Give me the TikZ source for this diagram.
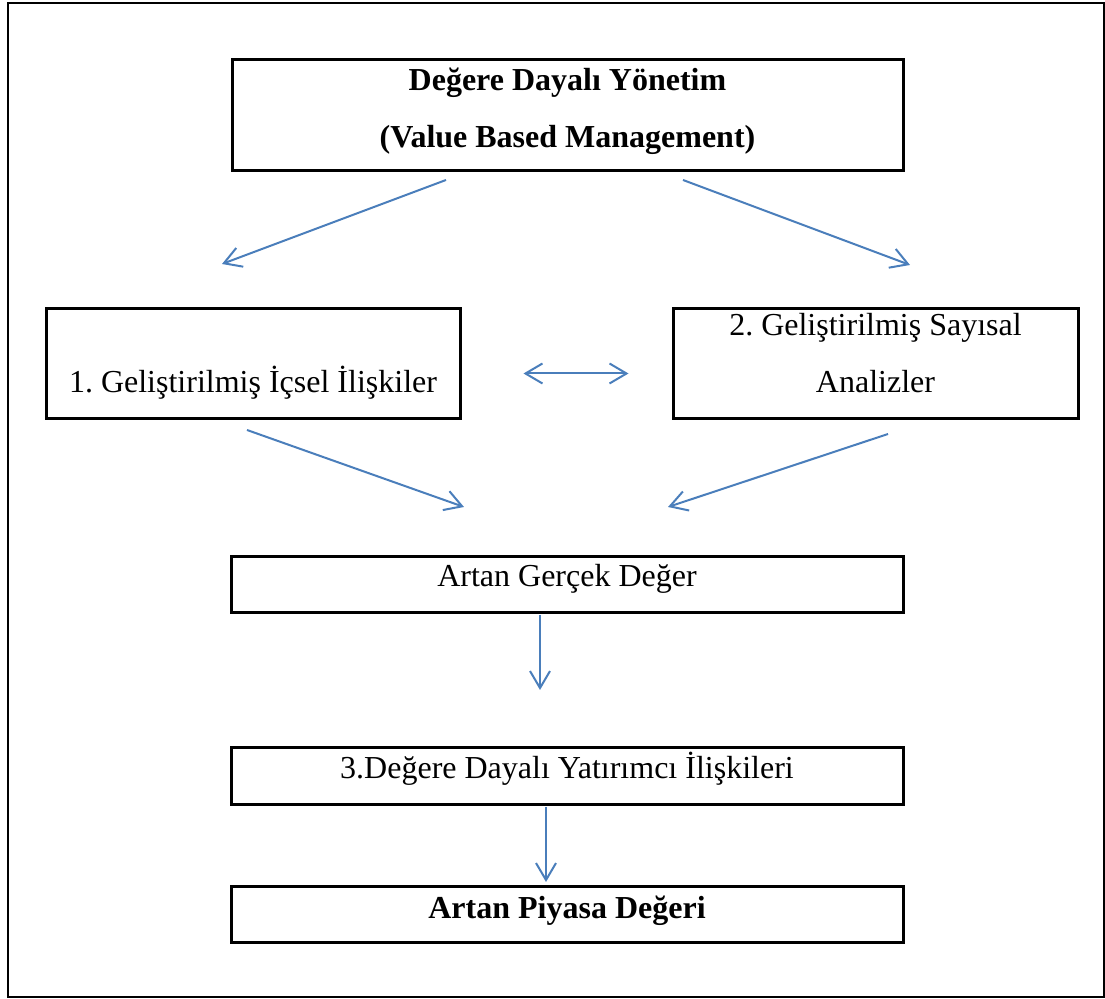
\documentclass[tikz,border=0pt]{standalone}
\usepackage{fontspec}
\setmainfont{Liberation Serif}
\usetikzlibrary{arrows.meta}
\definecolor{wordblue}{HTML}{4A7EBB}
\frenchspacing

\begin{document}
\begin{tikzpicture}[x=0.5pt,y=-0.5pt,>={Straight Barb[length=8.5pt,width=10pt]},
		box/.style={draw,line width=1.5pt,anchor=north,align=center,inner sep=0pt,font=\fontsize{16}{28.5}\selectfont},
		boldbox/.style={box,font=\fontsize{16}{28.5}\selectfont\bfseries},
		flow/.style={draw=wordblue,line width=1pt,->}]
	\useasboundingbox (0,0) rectangle (1105,999);
	\draw[line width=1.2pt] (8,3) rectangle (1104,997);
	\node[boldbox,minimum width=335.5pt,text height=44pt,text depth=11.5pt] (vbm) at (567.5,58) {Değere Dayalı Yönetim\\(Value Based Management)};
	\node[box,minimum width=207pt,text height=42pt,text depth=13pt] (gen) at (253,307) {1. Geliştirilmiş İçsel İlişkiler};
	\node[box,minimum width=202.5pt,text height=42pt,text depth=13pt] (num) at (875.5,307) {2. Geliştirilmiş Sayısal\\Analizler};
	\node[box,minimum width=336pt,text height=15pt,text depth=13pt] (real) at (567,555) {Artan Gerçek Değer};
	\node[box,minimum width=336pt,text height=15.5pt,text depth=13pt] (inv) at (567,746) {3.Değere Dayalı Yatırımcı İlişkileri};
	\node[boldbox,minimum width=336pt,text height=16pt,text depth=12pt] (mkt) at (567,885) {Artan Piyasa Değeri};
	\draw[flow] ([shift={(-121.5,8)}]vbm.south) -- ([shift={(-31,-43)}]gen.north);
	\draw[flow] ([shift={(115.5,8)}]vbm.south) -- ([shift={(34.5,-42)}]num.north);
	\draw[flow,<->] ([shift={(62,10)}]gen.east) -- ([shift={(-43,10)}]num.west);
	\draw[flow] ([shift={(-6,10)}]gen.south) -- ([shift={(-103,-48)}]real.north);
	\draw[flow] ([shift={(12.5,14)}]num.south) -- ([shift={(101,-48)}]real.north);
	\draw[flow] ([shift={(-27,1)}]real.south) -- ([shift={(-27,-56)}]inv.north);
	\draw[flow] ([shift={(-21,1)}]inv.south) -- ([shift={(-21,-3)}]mkt.north);
\end{tikzpicture}
\end{document}
